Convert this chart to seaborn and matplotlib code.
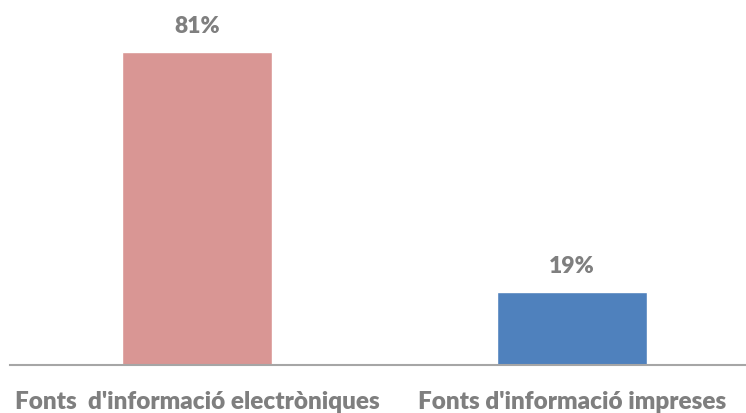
import matplotlib
matplotlib.use("Agg")
import matplotlib.pyplot as plt
import seaborn as sns
import pandas as pd

sns.set_theme(style="white")
plt.rcParams['font.family'] = ['Lato', 'DejaVu Sans']

# Dades
categories = ["Fonts  d'informació electròniques", "Fonts d'informació impreses"]
values = [81, 19]
colors = ["#D99694", "#4F81BD"]

df = pd.DataFrame({"categoria": categories, "valor": values})

fig = plt.figure(figsize=(7.46, 4.14), dpi=100)
ax = fig.add_axes([10 / 746, 48 / 414, 736 / 746, 366 / 414])

sns.barplot(data=df, x="categoria", y="valor", hue="categoria",
            palette=colors, width=0.4, saturation=1, legend=False, ax=ax)

for i, v in enumerate(values):
    ax.annotate(f"{v}%", (i, v), xytext=(0, 19), textcoords="offset points",
                ha="center", va="center", fontsize=16.5, fontweight="heavy",
                color="#7f7f7f")

ax.set_xlim(-0.5, 1.464)
ax.set_ylim(0, 94.7)
ax.set_xlabel("")
ax.set_ylabel("")
ax.set_yticks([])
ax.tick_params(axis="x", length=0, pad=18, labelsize=17.5, labelcolor="#7f7f7f")
for lbl in ax.get_xticklabels():
    lbl.set_fontweight("heavy")

for side in ["top", "right", "left"]:
    ax.spines[side].set_visible(False)
ax.spines["bottom"].set_color("#a6a6a6")
ax.spines["bottom"].set_linewidth(1.5)

fig.savefig("out.png", dpi=100)
